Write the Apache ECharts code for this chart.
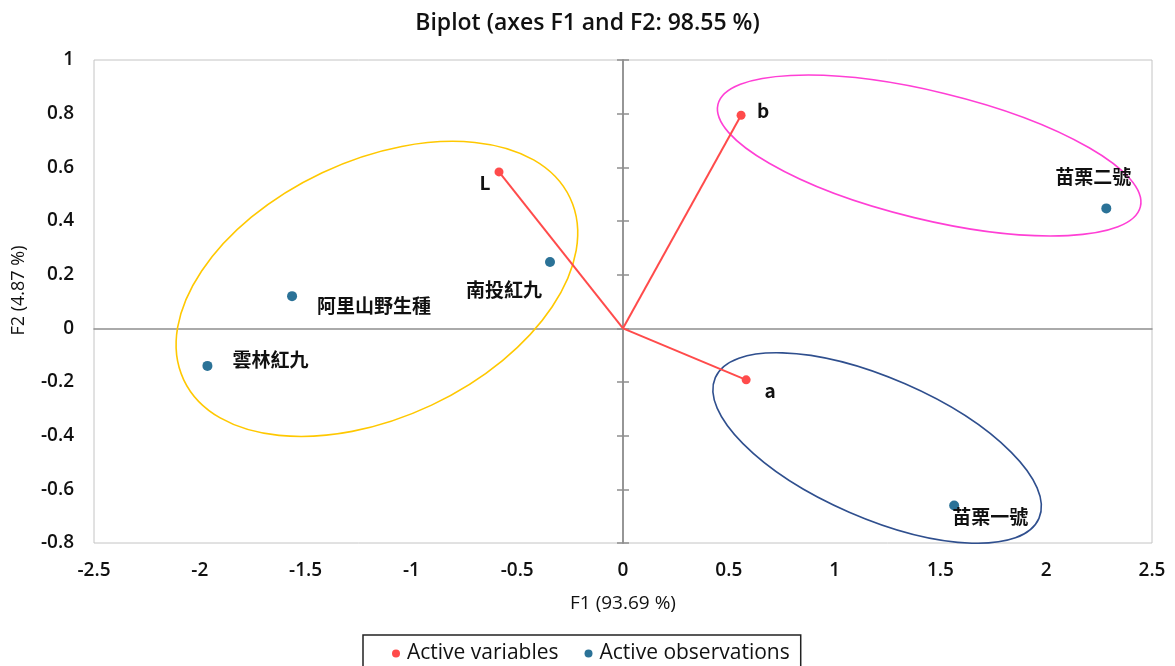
<!DOCTYPE html>
<html>
<head>
<meta charset="utf-8">
<script src="https://cdn.jsdelivr.net/npm/echarts@6/dist/echarts.min.js"></script>
<style>
html,body{margin:0;padding:0;background:#fff;}
#chart{width:1175px;height:666px;}
</style>
</head>
<body>
<div id="chart"></div>
<script>
// ---- data ----
const variableNames = ['L', 'b', 'a'];
const variableF1 = [-0.586, 0.558, 0.582];
const variableF2 = [0.583, 0.794, -0.192];

const observationNames = ['苗栗二號', '苗栗一號', '南投紅九', '阿里山野生種', '雲林紅九'];
const observationF1 = [2.284, 1.565, -0.345, -1.564, -1.964];
const observationF2 = [0.447, -0.660, 0.247, 0.120, -0.140];

// group ellipses: center F1, center F2, semi-axes (in F1 units), tilt (deg)
const ellipseCenterF1 = [-1.163, 1.447, 1.201];
const ellipseCenterF2 = [0.147, 0.644, -0.446];
const ellipseSemiMajor = [1.009, 1.027, 0.834];
const ellipseSemiMinor = [0.607, 0.302, 0.331];
const ellipseTilt = [25.2, -13.6, -23.5];

const xTicks = { min: -2.5, max: 2.5, interval: 0.5 };
const yTicks = { min: -0.8, max: 1, interval: 0.2 };

// ---- styles ----
const RED = '#ff4b4b';
const BLUE = '#2b7297';
const ELLIPSE_COLORS = ['#ffc800', '#ff3fd5', '#2f4f8e'];
const LATIN = '"Open Sans", "Noto Sans", sans-serif';
const CJK = '"Noto Sans CJK TC", "Noto Sans", sans-serif';
const labelOffsets = {
  'L': [-14, 11], 'b': [22, -4], 'a': [24, 11],
  '苗栗二號': [-13, -32], '苗栗一號': [36, 11], '南投紅九': [-46, 28],
  '阿里山野生種': [82, 10], '雲林紅九': [63, -6]
};

const chart = echarts.init(document.getElementById('chart'));

function pointLabel(name) {
  return {
    show: true, position: 'inside', offset: labelOffsets[name],
    formatter: '{b}', color: '#111', fontSize: 19,
    fontFamily: CJK, fontWeight: 'bold'
  };
}

const zeroLine = { color: '#8f8f8f', width: 1.5 };

const series = [];
// ellipses
series.push({
  type: 'custom', name: 'groups', silent: true, z: 1,
  data: ellipseCenterF1.map((c, i) => [c, ellipseCenterF2[i], ellipseSemiMajor[i], ellipseSemiMinor[i], ellipseTilt[i]]),
  renderItem: function (params, api) {
    const c = api.coord([api.value(0), api.value(1)]);
    const rx = api.size([api.value(2), 0])[0];
    const ry = api.size([api.value(3), 0])[0];
    return {
      type: 'ellipse', x: c[0], y: c[1], rotation: api.value(4) * Math.PI / 180,
      shape: { cx: 0, cy: 0, rx: rx, ry: ry },
      style: { fill: 'none', stroke: ELLIPSE_COLORS[params.dataIndex], lineWidth: 1.6 }
    };
  }
});
// vectors
variableNames.forEach((n, i) => {
  series.push({
    type: 'line', name: 'vec-' + n, silent: true, z: 3,
    data: [[0, 0], [variableF1[i], variableF2[i]]],
    showSymbol: false, symbol: 'none',
    lineStyle: { color: RED, width: 2 }, itemStyle: { color: RED }
  });
});
series.push({
  type: 'scatter', name: 'Active variables', z: 4,
  symbolSize: 9, itemStyle: { color: RED, opacity: 1 },
  data: variableNames.map((n, i) => ({ name: n, value: [variableF1[i], variableF2[i]], label: pointLabel(n) }))
});
series.push({
  type: 'scatter', name: 'Active observations', z: 4,
  symbolSize: 10, itemStyle: { color: BLUE, opacity: 1 },
  data: observationNames.map((n, i) => ({ name: n, value: [observationF1[i], observationF2[i]], label: pointLabel(n) }))
});

const option = {
  animation: false,
  backgroundColor: '#fff',
  title: {
    text: 'Biplot (axes F1 and F2: 98.55 %)', left: 'center', top: 7,
    textStyle: { fontFamily: LATIN, fontSize: 23, fontWeight: 600, color: '#111' }
  },
  grid: { left: 94, right: 23, top: 60, bottom: 123, show: true, borderColor: '#c4c4c4', borderWidth: 1, backgroundColor: 'transparent' },
  legend: {
    data: ['Active variables', 'Active observations'],
    left: 363, top: 635, orient: 'horizontal',
    icon: 'circle', itemWidth: 12, itemHeight: 8, itemGap: 26,
    borderColor: '#222', borderWidth: 1.5, padding: [8, 11, 10, 29],
    textStyle: { fontFamily: LATIN, fontSize: 21, color: '#111' }
  },
  xAxis: [
    {
      type: 'value', min: xTicks.min, max: xTicks.max, interval: xTicks.interval,
      position: 'bottom',
      axisLine: { show: false, onZero: false }, axisTick: { show: false }, splitLine: { show: false },
      axisLabel: { margin: 18, fontFamily: LATIN, fontSize: 19, fontWeight: 600, color: '#111' },
      name: 'F1 (93.69 %)', nameLocation: 'middle', nameGap: 51,
      nameTextStyle: { fontFamily: LATIN, fontSize: 19, color: '#111' }
    },
    {
      type: 'value', min: xTicks.min, max: xTicks.max, interval: xTicks.interval,
      position: 'bottom',
      axisLine: { show: true, onZero: true, lineStyle: zeroLine },
      axisTick: { show: false }, axisLabel: { show: false }, splitLine: { show: false }
    }
  ],
  yAxis: [
    {
      type: 'value', min: yTicks.min, max: yTicks.max, interval: yTicks.interval,
      position: 'left',
      axisLine: { show: false, onZero: false }, axisTick: { show: false }, splitLine: { show: false },
      axisLabel: { margin: 20, fontFamily: LATIN, fontSize: 19, fontWeight: 600, color: '#111' },
      name: 'F2 (4.87 %)', nameLocation: 'middle', nameGap: 66,
      nameTextStyle: { fontFamily: LATIN, fontSize: 18, color: '#111', padding: [0, 0, 0, 22] }
    },
    {
      type: 'value', min: yTicks.min, max: yTicks.max, interval: yTicks.interval,
      position: 'right',
      axisLine: { show: true, onZero: true, lineStyle: zeroLine },
      axisTick: { show: true, length: 6, lineStyle: zeroLine },
      axisLabel: { show: false }, splitLine: { show: false }
    },
    {
      type: 'value', min: yTicks.min, max: yTicks.max, interval: yTicks.interval,
      position: 'right',
      axisLine: { show: true, onZero: true, lineStyle: zeroLine },
      axisTick: { show: true, inside: true, length: 6, lineStyle: zeroLine },
      axisLabel: { show: false }, splitLine: { show: false }
    }
  ],
  series: series
};
chart.setOption(option);
</script>
</body>
</html>
